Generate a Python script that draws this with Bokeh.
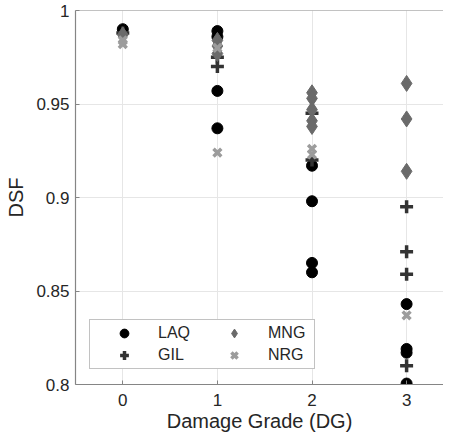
from bokeh.plotting import figure
from bokeh.models import Range1d, FixedTicker, Legend, LegendItem, Span
from bokeh.embed import file_html
from bokeh.resources import INLINE

# Data: (damage grade, DSF) per series
laq_dg = [0, 1, 1, 1, 1, 2, 2, 2, 2, 3, 3, 3, 3]
laq_dsf = [0.990, 0.989, 0.986, 0.957, 0.937, 0.917, 0.898, 0.865, 0.860, 0.843, 0.819, 0.817, 0.8005]

gil_dg = [0, 1, 1, 2, 2, 3, 3, 3, 3]
gil_dsf = [0.988, 0.975, 0.970, 0.945, 0.920, 0.895, 0.871, 0.859, 0.810]

mng_dg = [0, 1, 1, 1, 2, 2, 2, 2, 2, 3, 3, 3]
mng_dsf = [0.987, 0.984, 0.981, 0.977, 0.956, 0.953, 0.947, 0.941, 0.938, 0.961, 0.942, 0.914]

nrg_dg = [0, 0, 1, 1, 2, 2, 3]
nrg_dsf = [0.984, 0.982, 0.980, 0.924, 0.926, 0.923, 0.837]

x_ticks = [0, 1, 2, 3]
y_ticks = [0.8, 0.85, 0.9, 0.95, 1.0]
y_tick_labels = {0.8: "0.8", 0.85: "0.85", 0.9: "0.9", 0.95: "0.95", 1.0: "1"}

FONT = "Liberation Sans"
AXC = "#858585"
TXT = "#262626"

p = figure(width=443, height=437, output_backend="svg", toolbar_location=None,
           x_range=Range1d(-0.5, 3.39), y_range=Range1d(0.8, 1.0),
           min_border_left=75, min_border_right=0, min_border_top=10, min_border_bottom=53)
p.outline_line_color = None
p.background_fill_color = "white"
p.border_fill_color = "white"

for ax in (p.xaxis[0], p.yaxis[0]):
    ax.axis_line_color = AXC
    ax.axis_line_width = 1.2
    ax.major_tick_in = 4
    ax.major_tick_out = 0
    ax.major_tick_line_color = AXC
    ax.minor_tick_line_color = None
    ax.major_label_text_font = FONT
    ax.major_label_text_font_size = "17px"
    ax.major_label_text_color = TXT
    ax.axis_label_text_font = FONT
    ax.axis_label_text_font_size = "20px"
    ax.axis_label_text_font_style = "normal"
    ax.axis_label_text_color = TXT

p.xaxis.ticker = FixedTicker(ticks=x_ticks)
p.yaxis.ticker = FixedTicker(ticks=y_ticks)
p.yaxis.major_label_overrides = y_tick_labels
p.xaxis.major_label_standoff = 9
p.yaxis.major_label_standoff = 6
p.xaxis.axis_label = "Damage Grade (DG)"
p.yaxis.axis_label = "DSF"
p.xaxis.axis_label_standoff = 1
p.yaxis.axis_label_standoff = 6

p.xgrid.grid_line_color = "#e6e6e6"
p.ygrid.grid_line_color = "#e6e6e6"
p.xgrid.ticker = FixedTicker(ticks=x_ticks)
p.ygrid.ticker = FixedTicker(ticks=y_ticks)

# top box line (MATLAB box on; right edge falls outside the picture)
p.add_layout(Span(location=1.0, dimension="width", line_color=AXC, line_width=1.2))

r_laq = p.scatter(laq_dg, laq_dsf, marker="circle", size=11, fill_color="black", line_color="black")
r_gil = p.scatter(gil_dg, gil_dsf, marker="cross", size=13, line_color="#333333", line_width=3.5)
r_mng = p.scatter(mng_dg, mng_dsf, marker="diamond", size=16, fill_color="#6a6a6a", line_color="#6a6a6a")
r_nrg = p.scatter(nrg_dg, nrg_dsf, marker="x", size=11, line_color="#9c9c9c", line_width=3.5)

legend = Legend(items=[LegendItem(label="LAQ", renderers=[r_laq]),
                       LegendItem(label="GIL", renderers=[r_gil]),
                       LegendItem(label="MNG", renderers=[r_mng]),
                       LegendItem(label="NRG", renderers=[r_nrg])],
                location=(14, 15), nrows=2)
legend.border_line_color = AXC
legend.border_line_width = 1.2
legend.background_fill_color = "white"
legend.background_fill_alpha = 1.0
legend.label_text_font = FONT
legend.label_text_font_size = "16px"
legend.label_text_color = TXT
legend.glyph_width = 64
legend.glyph_height = 22
legend.label_height = 22
legend.label_width = 44
legend.label_standoff = 2
legend.padding = 2
legend.spacing = 0
legend.margin = 0
p.add_layout(legend, "center")

open("out.html", "w").write(file_html(p, INLINE))
